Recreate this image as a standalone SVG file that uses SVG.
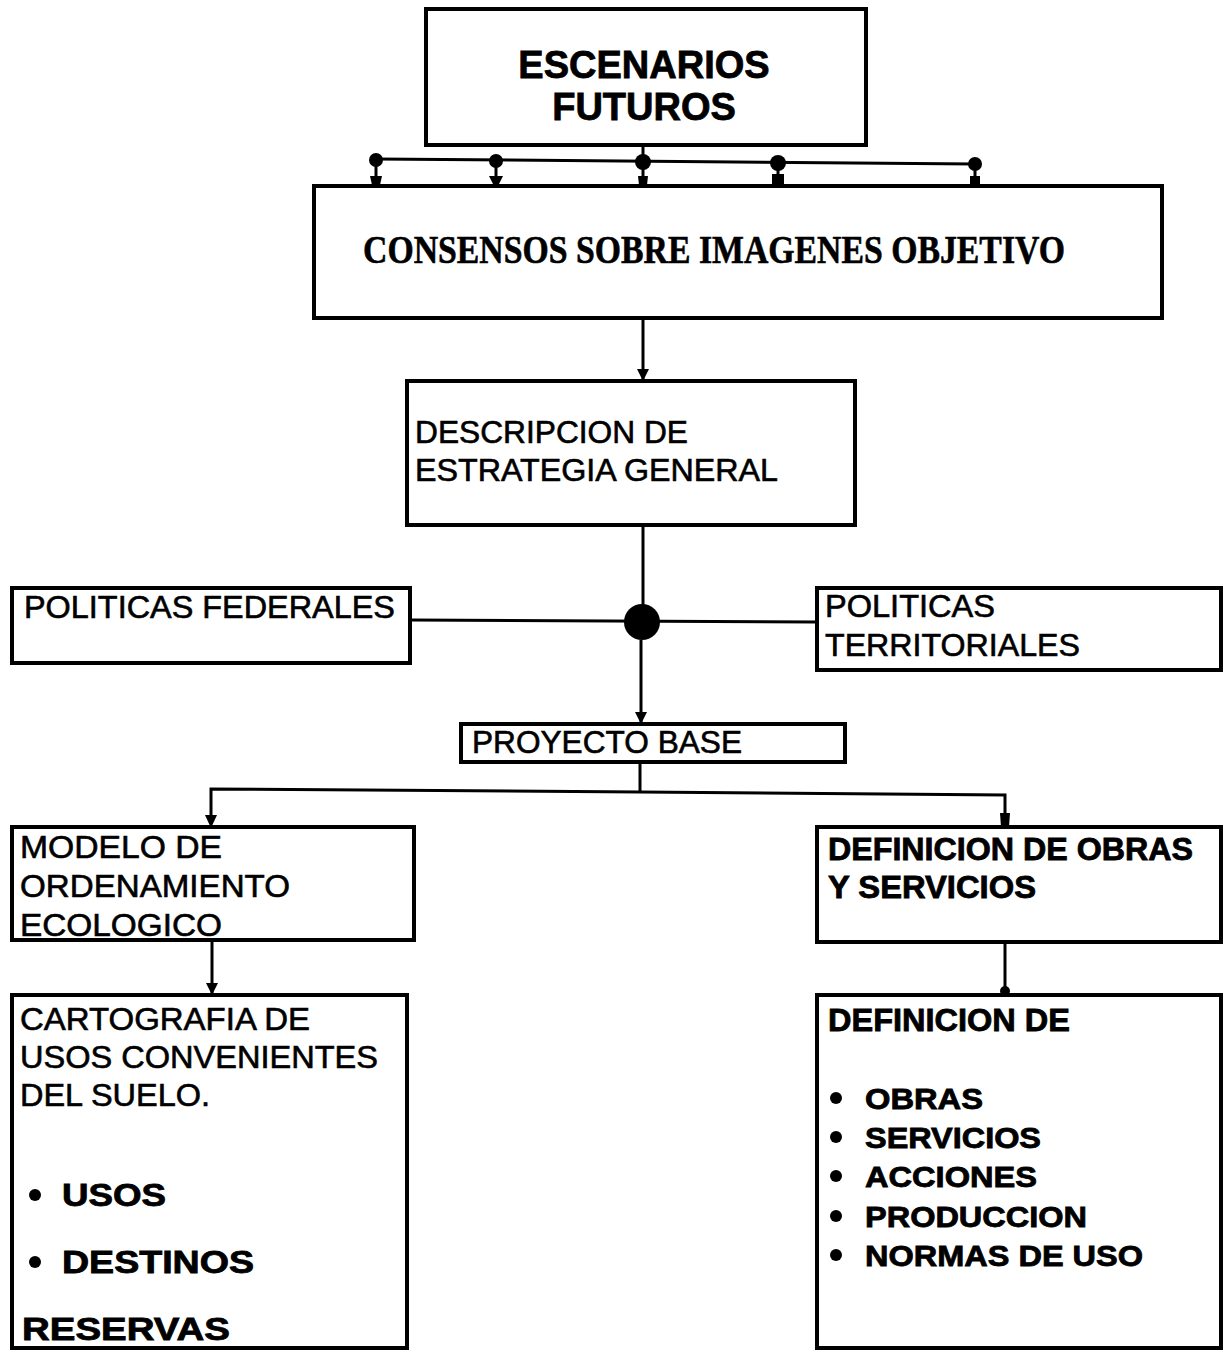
<svg xmlns="http://www.w3.org/2000/svg" width="1224" height="1350" viewBox="0 0 1224 1350">
  <style>
    .box { fill: #ffffff; stroke: #000000; stroke-width: 4; }
    .wire { fill: none; stroke: #000000; stroke-width: 3; }
    .t { font-family: "Liberation Sans", Arial, sans-serif; font-size: 31px; fill: #000000; stroke: #000000; stroke-width: 0.6; }
    .b { font-family: "Liberation Sans", Arial, sans-serif; font-size: 31px; font-weight: bold; fill: #000000; stroke: #000000; stroke-width: 0.8; }
    .s { font-family: "Liberation Serif", "Times New Roman", serif; font-size: 40px; font-weight: bold; fill: #000000; stroke: #000000; stroke-width: 0.6; }
    .dot { fill: #000000; }
  </style>
  <defs>
    <marker id="arrow" markerWidth="12" markerHeight="12" refX="11" refY="6" orient="auto" markerUnits="userSpaceOnUse" viewBox="0 0 12 12">
      <path d="M0,0 L12,6 L0,12 Z" fill="#000000"/>
    </marker>
  </defs>

  <rect width="1224" height="1350" fill="#ffffff"/>

  <g id="escenarios-futuros">
    <rect class="box" x="426" y="9" width="440" height="136"/>
    <text class="b" x="644" y="78" text-anchor="middle" style="font-size:38px">ESCENARIOS</text>
    <text class="b" x="644" y="120" text-anchor="middle" style="font-size:38px">FUTUROS</text>
  </g>

  <g id="consensos">
    <rect class="box" x="314" y="186" width="848" height="132"/>
    <text class="s" x="363" y="263" textLength="702" lengthAdjust="spacingAndGlyphs">CONSENSOS SOBRE IMAGENES  OBJETIVO</text>
  </g>

  <g id="descripcion">
    <rect class="box" x="407" y="381" width="448" height="144"/>
    <text class="t" x="415" y="443" textLength="273" lengthAdjust="spacingAndGlyphs">DESCRIPCION DE</text>
    <text class="t" x="415" y="481" textLength="363" lengthAdjust="spacingAndGlyphs">ESTRATEGIA GENERAL</text>
  </g>

  <g id="politicas-federales">
    <rect class="box" x="12" y="588" width="398" height="75"/>
    <text class="t" x="24" y="618" textLength="371" lengthAdjust="spacingAndGlyphs">POLITICAS FEDERALES</text>
  </g>

  <g id="politicas-territoriales">
    <rect class="box" x="817" y="588" width="404" height="82"/>
    <text class="t" x="825" y="617" textLength="170" lengthAdjust="spacingAndGlyphs">POLITICAS</text>
    <text class="t" x="825" y="656" textLength="255" lengthAdjust="spacingAndGlyphs">TERRITORIALES</text>
  </g>

  <g id="proyecto-base">
    <rect class="box" x="461" y="724" width="384" height="38"/>
    <text class="t" x="472" y="753" textLength="270" lengthAdjust="spacingAndGlyphs">PROYECTO BASE</text>
  </g>

  <g id="modelo-ordenamiento">
    <rect class="box" x="12" y="827" width="402" height="113"/>
    <text class="t" x="20" y="858" textLength="202" lengthAdjust="spacingAndGlyphs">MODELO DE</text>
    <text class="t" x="20" y="897" textLength="270" lengthAdjust="spacingAndGlyphs">ORDENAMIENTO</text>
    <text class="t" x="20" y="936" textLength="202" lengthAdjust="spacingAndGlyphs">ECOLOGICO</text>
  </g>

  <g id="definicion-obras">
    <rect class="box" x="817" y="827" width="404" height="115"/>
    <text class="b" x="828" y="860" textLength="365" lengthAdjust="spacingAndGlyphs">DEFINICION DE OBRAS</text>
    <text class="b" x="828" y="898" textLength="208" lengthAdjust="spacingAndGlyphs">Y SERVICIOS</text>
  </g>

  <g id="cartografia">
    <rect class="box" x="12" y="995" width="395" height="353"/>
    <text class="t" x="20" y="1030" textLength="290" lengthAdjust="spacingAndGlyphs">CARTOGRAFIA DE</text>
    <text class="t" x="20" y="1068" textLength="358" lengthAdjust="spacingAndGlyphs">USOS CONVENIENTES</text>
    <text class="t" x="20" y="1106" textLength="190" lengthAdjust="spacingAndGlyphs">DEL SUELO.</text>
    <circle class="dot" cx="35" cy="1195" r="6"/>
    <text class="b" x="62" y="1206" textLength="104" lengthAdjust="spacingAndGlyphs">USOS</text>
    <circle class="dot" cx="35" cy="1262" r="6"/>
    <text class="b" x="62" y="1273" textLength="192" lengthAdjust="spacingAndGlyphs">DESTINOS</text>
    <text class="b" x="22" y="1340" textLength="208" lengthAdjust="spacingAndGlyphs">RESERVAS</text>
  </g>

  <g id="definicion-lista">
    <rect class="box" x="817" y="995" width="404" height="353"/>
    <text class="b" x="828" y="1031" textLength="242" lengthAdjust="spacingAndGlyphs">DEFINICION DE</text>
    <circle class="dot" cx="836" cy="1098" r="6"/>
    <text class="b" x="865" y="1109" textLength="118" lengthAdjust="spacingAndGlyphs" style="font-size:29px">OBRAS</text>
    <circle class="dot" cx="836" cy="1137" r="6"/>
    <text class="b" x="865" y="1148" textLength="176" lengthAdjust="spacingAndGlyphs" style="font-size:29px">SERVICIOS</text>
    <circle class="dot" cx="836" cy="1176" r="6"/>
    <text class="b" x="865" y="1187" textLength="172" lengthAdjust="spacingAndGlyphs" style="font-size:29px">ACCIONES</text>
    <circle class="dot" cx="836" cy="1216" r="6"/>
    <text class="b" x="865" y="1227" textLength="222" lengthAdjust="spacingAndGlyphs" style="font-size:29px">PRODUCCION</text>
    <circle class="dot" cx="836" cy="1255" r="6"/>
    <text class="b" x="865" y="1266" textLength="278" lengthAdjust="spacingAndGlyphs" style="font-size:29px">NORMAS DE USO</text>
  </g>

  <!-- connectors, drawn over the box edges so the heads stay visible -->
  <g id="connectors">
    <!-- fan-out from scenarios to consensus -->
    <line class="wire" x1="643" y1="145" x2="643" y2="160"/>
    <line class="wire" x1="376" y1="159" x2="975" y2="164"/>
    <g class="dot">
      <circle cx="376" cy="160" r="7"/>
      <circle cx="496" cy="161" r="7"/>
      <circle cx="643" cy="162" r="8"/>
      <circle cx="778" cy="163" r="8"/>
      <circle cx="975" cy="164" r="7"/>
    </g>
    <path class="wire" d="M376,160 V182 M496,161 V182 M643,162 V182 M778,163 V182 M975,164 V182"/>
    <g class="dot">
      <path d="M370,176 H382 L380,185 H372 Z"/>
      <path d="M489,176 H503 L499,184 H493 Z"/>
      <path d="M638,176 H648 L647,185 H639 Z"/>
      <path d="M772,174 H784 V186 H772 Z"/>
      <path d="M970,176 H980 V186 H970 Z"/>
    </g>

    <!-- consensus to strategy -->
    <line class="wire" x1="643" y1="320" x2="643" y2="380" marker-end="url(#arrow)"/>

    <!-- strategy to junction -->
    <line class="wire" x1="643" y1="527" x2="643" y2="605"/>
    <!-- policies into junction -->
    <line class="wire" x1="412" y1="620" x2="815" y2="622"/>
    <circle class="dot" cx="642" cy="622" r="18"/>
    <!-- junction to base project -->
    <line class="wire" x1="641" y1="640" x2="641" y2="723" marker-end="url(#arrow)"/>

    <!-- base project split -->
    <line class="wire" x1="640" y1="764" x2="640" y2="792"/>
    <polyline class="wire" points="211,822 211,789 640,792 1005,795 1005,822"/>
    <path class="dot" d="M205,815 H217 L211,828 Z"/>
    <path class="dot" d="M1000,813 H1010 L1009,827 H1001 Z"/>

    <!-- lower links -->
    <line class="wire" x1="212" y1="942" x2="212" y2="994" marker-end="url(#arrow)"/>
    <line class="wire" x1="1005" y1="944" x2="1005" y2="992"/>
    <circle class="dot" cx="1005" cy="991" r="5"/>
  </g>
</svg>
